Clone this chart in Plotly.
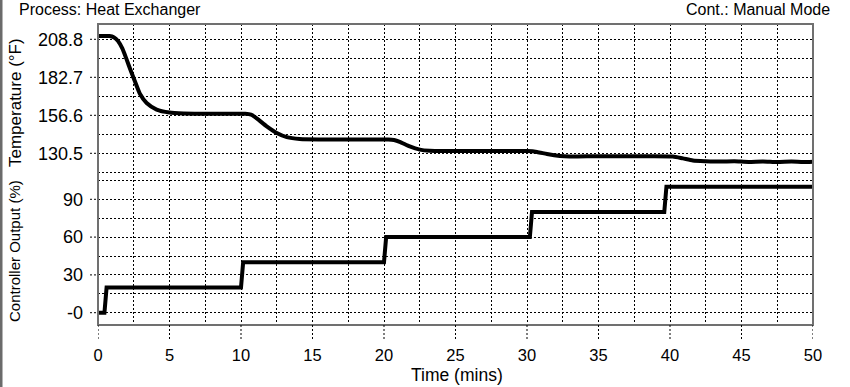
import plotly.graph_objects as go

# ---- data ----
time_temp = [0, 0.8, 1.1, 1.4, 1.7, 2.0, 2.3, 2.6, 2.95, 3.4, 4.1, 5.0, 6.0, 8.0, 10.3,
             10.7, 11.1, 11.8, 12.5, 13.2, 14.1, 16.0, 18.0, 20.3,
             20.7, 21.1, 21.8, 22.5, 23.2, 25.0, 28.0, 30.0,
             30.7, 31.4, 32.3, 33.0, 35.0, 37.0, 38.5, 40.2,
             40.9, 41.6, 42.5, 43.5, 44.5, 45.5, 46.5, 47.5, 48.5, 49.3, 50.0]
temp_f = [211.1, 211.0, 210.2, 207.6, 202.5, 195.0, 187.0, 179.5, 171.0, 165.0, 160.5, 158.5, 157.9, 157.6, 157.6,
          157.0, 154.5, 149.0, 144.4, 141.6, 140.3, 140.0, 140.0, 140.0,
          139.6, 138.4, 135.2, 133.0, 132.2, 132.0, 132.1, 132.0,
          131.4, 130.0, 128.7, 128.3, 128.5, 128.4, 128.5, 128.3,
          127.0, 125.6, 125.1, 124.8, 125.0, 124.6, 124.9, 124.5, 124.8, 124.5, 124.7]

time_out = [0, 0.45, 0.6, 10.0, 10.15, 20.0, 20.15, 30.2, 30.35, 39.6, 39.75, 50]
output_pct = [0, 0, 20, 20, 40, 40, 60, 60, 80, 80, 100, 100]

temp_ticks = [208.8, 195.75, 182.7, 169.65, 156.6, 143.55, 130.5, 117.45]
temp_labels = ["208.8", "", "182.7", "", "156.6", "", "130.5", ""]
out_ticks = [0, 15, 30, 45, 60, 75, 90, 105]
out_labels = ["-0", "", "30", "", "60", "", "90", ""]
x_ticks = [0, 2.5, 5, 7.5, 10, 12.5, 15, 17.5, 20, 22.5, 25, 27.5, 30, 32.5,
           35, 37.5, 40, 42.5, 45, 47.5, 50]
x_labels = ["0", "", "5", "", "10", "", "15", "", "20", "", "25", "", "30", "",
            "35", "", "40", "", "45", "", "50"]

title_left = "Process: Heat Exchanger"
title_right = "Cont.: Manual Mode"
x_title = "Time (mins)"
y1_title = "Temperature (°F)"
y2_title = "Controller Output (%)"

# ---- layout geometry (pixels) ----
W, H = 850, 387
L, R, T, B = 98, 813, 24, 325
pw, ph = R - L, B - T
split_px = 176
split = (B - split_px) / ph

FONT = "Liberation Sans, Arial, sans-serif"

fig = go.Figure()
fig.add_trace(go.Scatter(x=time_temp, y=temp_f, mode="lines", xaxis="x", yaxis="y",
                         line=dict(color="black", width=4, shape="spline", smoothing=0.6),
                         hoverinfo="skip"))
fig.add_trace(go.Scatter(x=time_out, y=output_pct, mode="lines", xaxis="x", yaxis="y2",
                         line=dict(color="black", width=4), hoverinfo="skip"))

grid = dict(showgrid=True, gridcolor="black", gridwidth=1, griddash="2px,2px",
            zeroline=False, showline=False, ticks="")

fig.update_layout(
    width=W, height=H,
    margin=dict(l=L, r=W - R, t=T, b=H - B, pad=0, autoexpand=False),
    paper_bgcolor="white", plot_bgcolor="white", showlegend=False,
    font=dict(family=FONT, color="black"),
    xaxis=dict(range=[0, 50], domain=[0, 1], anchor="y2", tickmode="array",
               tickvals=x_ticks, ticktext=x_labels, tickfont=dict(size=16.5),
               ticklabelstandoff=18, **grid),
    yaxis=dict(range=[114.91, 219.31], domain=[split, 1], anchor="x", tickmode="array",
               tickvals=temp_ticks, ticktext=temp_labels, tickfont=dict(size=18),
               ticklabelstandoff=14, **grid),
    yaxis2=dict(range=[-9.76, 108.49], domain=[0, split], anchor="x", tickmode="array",
                tickvals=out_ticks, ticktext=out_labels, tickfont=dict(size=18),
                ticklabelstandoff=14, **grid),
)

def px_x(p):
    return (p - L) / pw

def px_y(p):
    return (B - p) / ph

shapes = []
# plot frame
shapes.append(dict(type="rect", xref="paper", yref="paper", x0=0, x1=1, y0=0, y1=1,
                   line=dict(color="#707070", width=2), layer="above"))
# left edge border of the figure
shapes.append(dict(type="rect", xref="paper", yref="paper", x0=px_x(0), x1=px_x(2.5),
                   y0=px_y(H), y1=px_y(0), line=dict(width=0), fillcolor="#6b6b6b"))
# dotted tick extensions for labelled ticks
for v, lab in zip(temp_ticks, temp_labels):
    if lab:
        shapes.append(dict(type="line", xref="paper", yref="y", x0=px_x(L - 8), x1=0, y0=v, y1=v,
                           line=dict(color="black", width=1, dash="2px,2px")))
for v, lab in zip(out_ticks, out_labels):
    if lab:
        shapes.append(dict(type="line", xref="paper", yref="y2", x0=px_x(L - 8), x1=0, y0=v, y1=v,
                           line=dict(color="black", width=1, dash="2px,2px")))
for v, lab in zip(x_ticks, x_labels):
    if lab:
        shapes.append(dict(type="line", xref="x", yref="paper", x0=v, x1=v, y0=0, y1=px_y(B + 15),
                           line=dict(color="black", width=1, dash="2px,2px")))
fig.update_layout(shapes=shapes)

ann = [
    dict(text=title_left, x=px_x(17), y=px_y(10), xanchor="left", yanchor="middle", font=dict(size=16)),
    dict(text=title_right, x=px_x(832), y=px_y(10), xanchor="right", yanchor="middle", font=dict(size=16)),
    dict(text=x_title, x=px_x(457.5), y=px_y(375), xanchor="center", yanchor="middle", font=dict(size=17.5)),
    dict(text=y1_title, x=px_x(15), y=px_y(103), xanchor="center", yanchor="middle", textangle=-90,
         font=dict(size=17)),
    dict(text=y2_title, x=px_x(15), y=px_y(251), xanchor="center", yanchor="middle", textangle=-90,
         font=dict(size=15)),
]
for a in ann:
    a.update(xref="paper", yref="paper", showarrow=False)
fig.update_layout(annotations=ann)

fig.write_html("out.html", config={"displayModeBar": False, "staticPlot": True},
               post_script="document.body.style.margin='0';document.body.style.padding='0';"
                           "document.body.style.overflow='hidden';")
